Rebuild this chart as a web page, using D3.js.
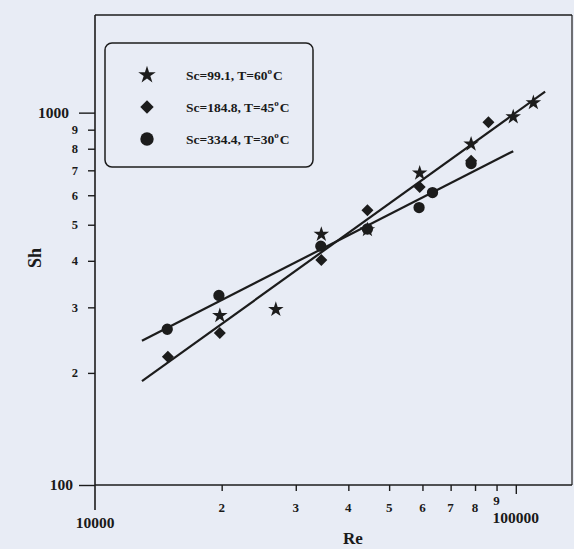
<!DOCTYPE html>
<html><head><meta charset="utf-8">
<script src="https://cdn.jsdelivr.net/npm/d3@7"></script>
<style>
html,body{margin:0;padding:0;background:#e8ecf5;}
svg{display:block;}
text{font-family:"Liberation Serif","DejaVu Serif",serif;font-weight:bold;fill:#1a1a1a;}
</style></head>
<body>
<svg id="chart" width="574" height="549"></svg>
<script>
// ---- data ----
const seriesNames = ["Sc=99.1, T=60", "Sc=184.8, T=45", "Sc=334.4, T=30"];
const starRe = [19800, 26900, 34500, 44400, 59100, 78300, 98600, 110100];
const starSh = [285, 296, 471, 485, 688, 823, 974, 1063];
const diamondRe = [14900, 19800, 34500, 44400, 59100, 78300, 86100];
const diamondSh = [221, 256, 402, 547, 631, 743, 943];
const circleRe = [14850, 19700, 34400, 44400, 58900, 63400, 78300];
const circleSh = [262, 323, 438, 487, 556, 610, 730];
// fitted lines (end points)
const fitSteepRe = [12930, 117400];
const fitSteepSh = [190, 1139];
const fitShallowRe = [12930, 98600];
const fitShallowSh = [244, 788];
// ticks
const xTicks = [10000, 20000, 30000, 40000, 50000, 60000, 70000, 80000, 90000, 100000];
const xTickLabels = ["10000", "2", "3", "4", "5", "6", "7", "8", "9", "100000"];
const yTicks = [100, 200, 300, 400, 500, 600, 700, 800, 900, 1000];
const yTickLabels = ["100", "2", "3", "4", "5", "6", "7", "8", "9", "1000"];

const svg = d3.select("#chart");
const L = 95, R = 572, T = 15, B = 485;
const x = d3.scaleLog().domain([10000, 136000]).range([L, R]);
const y = d3.scaleLog().domain([100, 1829]).range([B, T]);
const ink = "#1c1c1c";

// frame
svg.append("line").attr("x1", L).attr("x2", R).attr("y1", T).attr("y2", T).attr("stroke", ink).attr("stroke-width", 1.6);
svg.append("line").attr("x1", R).attr("x2", R).attr("y1", T).attr("y2", B).attr("stroke", ink).attr("stroke-width", 1.2);

// x axis
const xAxis = d3.axisBottom(x).tickValues(xTicks).tickFormat("").tickSizeOuter(0).tickSize(7);
const gx = svg.append("g").attr("transform", `translate(0,${B})`).call(xAxis);
gx.select(".domain").attr("stroke", ink).attr("stroke-width", 1.6).attr("d", `M${L},0H${R}`);
gx.selectAll(".tick line").attr("stroke", ink).attr("stroke-width", 1.4)
  .attr("y2", (d, i) => (i === xTicks.length - 1 ? 9 : 6));
gx.selectAll(".tick").filter((d, i) => i === 0).select("line").attr("y2", 0);
xTicks.forEach((v, i) => {
  const major = (i === 0 || i === xTicks.length - 1);
  let yy = major ? (i === 0 ? 528 : 523) : (i === 8 ? 505 : 512);
  svg.append("text").attr("x", x(v)).attr("y", yy).attr("text-anchor", "middle")
    .attr("font-size", major ? 15.5 : 13).text(xTickLabels[i]);
});

// y axis
const yAxis = d3.axisLeft(y).tickValues(yTicks).tickFormat("").tickSizeOuter(0).tickSize(8);
const gy = svg.append("g").attr("transform", `translate(${L},0)`).call(yAxis);
gy.select(".domain").attr("stroke", ink).attr("stroke-width", 1.6).attr("d", `M0,${T}V510`);
gy.selectAll(".tick line").attr("stroke", ink).attr("stroke-width", 1.4)
  .attr("x2", (d, i) => (i === 0 || i === yTicks.length - 1) ? -16 : -7);
yTicks.forEach((v, i) => {
  const major = (i === 0 || i === yTicks.length - 1);
  svg.append("text").attr("x", major ? (i === 0 ? 73 : 69) : 78).attr("y", y(v))
    .attr("dy", "0.35em").attr("text-anchor", "end")
    .attr("font-size", major ? 15.5 : 12.5).text(yTickLabels[i]);
});

// axis titles
svg.append("text").attr("x", 353).attr("y", 544).attr("text-anchor", "middle").attr("font-size", 17).text("Re");
svg.append("text").attr("transform", "translate(41,258) rotate(-90)").attr("text-anchor", "middle").attr("font-size", 18).text("Sh");

// fitted lines
const line = d3.line().x(d => x(d[0])).y(d => y(d[1]));
svg.append("path").datum(d3.zip(fitSteepRe, fitSteepSh)).attr("d", line)
  .attr("fill", "none").attr("stroke", ink).attr("stroke-width", 2.2);
svg.append("path").datum(d3.zip(fitShallowRe, fitShallowSh)).attr("d", line)
  .attr("fill", "none").attr("stroke", ink).attr("stroke-width", 2.2);

// markers
const starSym = d3.symbol().type(d3.symbolStar).size(75);
const sqSym = d3.symbol().type(d3.symbolSquare).size(72);
const circSym = d3.symbol().type(d3.symbolCircle).size(100);
svg.append("g").selectAll("path").data(d3.zip(circleRe, circleSh)).join("path")
  .attr("d", circSym).attr("transform", d => `translate(${x(d[0])},${y(d[1])})`).attr("fill", ink);
svg.append("g").selectAll("path").data(d3.zip(diamondRe, diamondSh)).join("path")
  .attr("d", sqSym).attr("transform", d => `translate(${x(d[0])},${y(d[1])}) rotate(45)`).attr("fill", ink);
svg.append("g").selectAll("path").data(d3.zip(starRe, starSh)).join("path")
  .attr("d", starSym).attr("transform", d => `translate(${x(d[0])},${y(d[1])})`).attr("fill", ink);

// legend
const lg = svg.append("g");
lg.append("rect").attr("x", 105).attr("y", 43).attr("width", 208).attr("height", 124).attr("rx", 7)
  .attr("fill", "none").attr("stroke", ink).attr("stroke-width", 1.5);
const rowsY = [75, 107, 139];
const legSyms = [
  d3.symbol().type(d3.symbolStar).size(95)(),
  d3.symbol().type(d3.symbolSquare).size(90)(),
  d3.symbol().type(d3.symbolCircle).size(140)()
];
seriesNames.forEach((name, i) => {
  lg.append("path").attr("d", legSyms[i])
    .attr("transform", `translate(147,${rowsY[i]})${i === 1 ? " rotate(45)" : ""}`).attr("fill", ink);
  const t = lg.append("text").attr("x", 186).attr("y", rowsY[i] + 5).attr("font-size", 13.5);
  t.append("tspan").text(name);
  t.append("tspan").attr("dy", -6).attr("font-size", 9).text("o");
  t.append("tspan").attr("dy", 6).attr("dx", 1).text("C");
});
</script>
</body></html>
